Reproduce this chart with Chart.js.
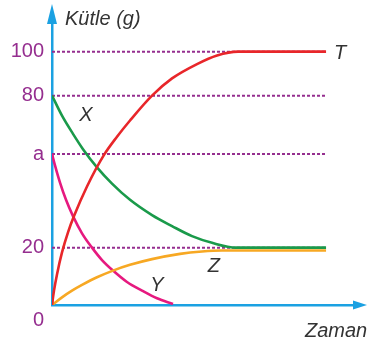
<!DOCTYPE html>
<html>
<head>
<meta charset="utf-8">
<script src="https://cdn.jsdelivr.net/npm/chart.js"></script>
<style>
  html, body { margin: 0; padding: 0; background: #fff; }
</style>
</head>
<body>
<canvas id="myChart" width="368" height="343"></canvas>
<script>
// Eksen çizimde ölçekli değil, bu yüzden değerler resimdeki konumlardan okunmuş "çizim birimi"
const tickValues = [0, 22.6, 59.6, 82.6, 100];
const tickLabels = [['', '0'], '20', 'a', '80', '100'];

// T (kırmızı)
const tZaman = [0, 0.073, 0.182, 0.365, 0.584, 0.803, 1.277, 1.898, 2.372, 2.847, 3.65, 4.38, 5.292, 6.022, 6.788, 10];
const tKutle = [0, 5.66, 12.08, 20.75, 28.68, 35.09, 46.79, 59.25, 66.42, 72.83, 82.64, 89.43, 95.09, 98.49, 100, 100];
// X (yeşil)
const xZaman = [0, 0.365, 0.766, 1.131, 1.642, 2.19, 2.847, 3.65, 4.38, 5.109, 5.839, 6.715, 10];
const xKutle = [82.64, 74.72, 67.55, 61.51, 54.34, 47.92, 41.51, 35.47, 31.13, 27.17, 24.53, 22.64, 22.64];
// Y (pembe)
const yZaman = [0, 0.109, 0.292, 0.511, 0.766, 1.095, 1.46, 1.825, 2.226, 2.737, 3.285, 3.832, 4.416];
const yKutle = [59.62, 55.09, 48.3, 41.51, 35.09, 28.3, 22.64, 17.74, 13.58, 9.06, 5.66, 2.64, 0.38];
// Z (turuncu)
const zZaman = [0, 0.365, 0.73, 1.095, 1.642, 2.226, 2.847, 3.65, 4.672, 5.474, 6.204, 6.715, 10];
const zKutle = [0, 3.02, 5.66, 7.92, 10.94, 13.58, 15.85, 18.11, 20.19, 21.13, 21.51, 21.51, 21.51];

// kesikli yardımcı çizgiler
const refLevels = [100, 82.6, 59.6, 22.6];
const refEnd = 10;

const curveLabels = [
  { text: 'T', x: 10.51, y: 99.2 },
  { text: 'X', x: 1.24, y: 74.7 },
  { text: 'Y', x: 3.83, y: 7.9 },
  { text: 'Z', x: 5.91, y: 15.1 }
];

const cyan = '#1ba1e2';
const purple = '#952e8f';

function pts(xs, ys) {
  return xs.map((x, i) => ({ x: x, y: ys[i] }));
}

function curve(label, xs, ys, color) {
  return {
    label: label,
    data: pts(xs, ys),
    borderColor: color,
    borderWidth: 2.6,
    pointRadius: 0,
    fill: false,
    cubicInterpolationMode: 'monotone',
    order: 0
  };
}

const datasets = [
  curve('T', tZaman, tKutle, '#e8262a'),
  curve('X', xZaman, xKutle, '#1a9a4a'),
  curve('Z', zZaman, zKutle, '#f7a823'),
  curve('Y', yZaman, yKutle, '#e6197f')
];
refLevels.forEach(v => {
  datasets.push({
    label: 'ref',
    data: [{ x: 0, y: v }, { x: refEnd, y: v }],
    borderColor: purple,
    borderWidth: 2,
    borderDash: [3, 2],
    pointRadius: 0,
    fill: false,
    order: 1
  });
});

// oklar ve yazılar
const extras = {
  id: 'extras',
  afterDraw(chart) {
    const ctx = chart.ctx;
    const a = chart.chartArea;
    const xs = chart.scales.x, ys = chart.scales.y;
    ctx.save();
    ctx.fillStyle = cyan;
    // y ekseni oku
    ctx.beginPath();
    ctx.moveTo(a.left, 4);
    ctx.lineTo(a.left - 5, a.top + 1);
    ctx.lineTo(a.left + 5, a.top + 1);
    ctx.closePath();
    ctx.fill();
    // x ekseni oku
    ctx.beginPath();
    ctx.moveTo(367, a.bottom);
    ctx.lineTo(a.right - 1, a.bottom - 4.5);
    ctx.lineTo(a.right - 1, a.bottom + 4.5);
    ctx.closePath();
    ctx.fill();

    ctx.fillStyle = '#333';
    ctx.font = 'italic 20px "Liberation Sans", Arial, sans-serif';
    ctx.textBaseline = 'alphabetic';
    ctx.textAlign = 'left';
    ctx.fillText('Kütle (g)', 65, 25);
    ctx.fillText('Zaman', 305, 337);

    ctx.textAlign = 'center';
    ctx.textBaseline = 'middle';
    curveLabels.forEach(l => {
      ctx.fillText(l.text, xs.getPixelForValue(l.x), ys.getPixelForValue(l.y));
    });
    ctx.restore();
  }
};

new Chart(document.getElementById('myChart'), {
  type: 'line',
  data: { datasets: datasets },
  options: {
    responsive: false,
    animation: false,
    devicePixelRatio: 1,
    layout: { padding: { top: 15, right: 14, bottom: 33, left: 0 } },
    plugins: { legend: { display: false }, tooltip: { enabled: false } },
    scales: {
      x: {
        type: 'linear',
        min: 0,
        max: 11.02,
        ticks: { display: false },
        grid: { display: false, drawTicks: false },
        border: { color: cyan, width: 2.5 },
        afterFit: s => { s.height = 0; }
      },
      y: {
        type: 'linear',
        min: 0,
        max: 111.3,
        afterBuildTicks: s => { s.ticks = tickValues.map(v => ({ value: v })); },
        ticks: {
          autoSkip: false,
          padding: 8,
          color: purple,
          font: { family: '"Liberation Sans", Arial, sans-serif', size: 20, lineHeight: 1.5 },
          callback: (value, index) => tickLabels[index]
        },
        grid: { display: false, drawTicks: false },
        border: { color: cyan, width: 2.5 },
        afterFit: s => { s.width = 52; }
      }
    }
  },
  plugins: [extras]
});
</script>
</body>
</html>
